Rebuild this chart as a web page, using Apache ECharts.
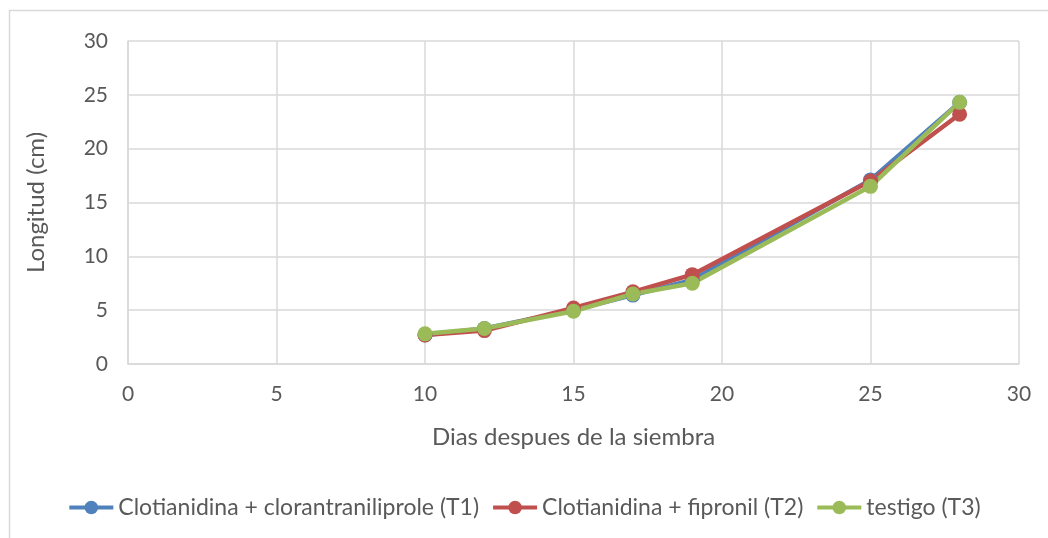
<!DOCTYPE html>
<html>
<head>
<meta charset="utf-8">
<script src="https://cdn.jsdelivr.net/npm/echarts@6/dist/echarts.min.js"></script>
<style>
html,body{margin:0;padding:0;background:#fff;}
#chart{width:1048px;height:538px;}
</style>
</head>
<body>
<div id="chart"></div>
<script>
// dias despues de la siembra
var dias = [10, 12, 15, 17, 19, 25, 28];
// longitud (cm) por tratamiento
var t1 = [2.7, 3.3, 5.0, 6.4, 7.8, 17.1, 24.3];
var t2 = [2.7, 3.1, 5.2, 6.7, 8.3, 17.0, 23.2];
var t3 = [2.8, 3.3, 4.9, 6.5, 7.5, 16.5, 24.3];
var nombres = ['Clotianidina + clorantraniliprole (T1)', 'Clotianidina + fipronil (T2)', 'testigo (T3)'];
var colores = ['#4f81bd', '#c0504d', '#9bbb59'];

var fuente = 'Lato, "Open Sans", sans-serif';
var gris = '#595959';

function pares(arr) {
    return dias.map(function (d, i) { return [d, arr[i]]; });
}

var serie = function (nombre, datos, color) {
    return {
        name: nombre,
        type: 'line',
        data: pares(datos),
        symbol: 'circle',
        symbolSize: 15,
        lineStyle: {width: 4.5, color: color},
        itemStyle: {color: color},
        emphasis: {disabled: true}
    };
};

var chart = echarts.init(document.getElementById('chart'));
chart.setOption({
    animation: false,
    textStyle: {fontFamily: fuente},
    graphic: [{
        type: 'rect',
        shape: {x: 9.5, y: 10.5, width: 1100, height: 600},
        style: {fill: 'none', stroke: '#d9d9d9', lineWidth: 1.5},
        silent: true
    }],
    grid: {left: 128, right: 29, top: 41, bottom: 174},
    xAxis: {
        type: 'value',
        min: 0, max: 30, interval: 5,
        name: 'Dias despues de la siembra',
        nameLocation: 'middle',
        nameGap: 61,
        nameTextStyle: {color: gris, fontSize: 24, fontFamily: fuente},
        axisLine: {lineStyle: {color: '#d9d9d9', width: 1.5}},
        axisTick: {show: false},
        axisLabel: {color: gris, fontSize: 21, margin: 20, fontFamily: fuente},
        splitLine: {show: true, lineStyle: {color: '#d9d9d9', width: 1.5}}
    },
    yAxis: {
        type: 'value',
        min: 0, max: 30, interval: 5,
        name: 'Longitud (cm)',
        nameLocation: 'middle',
        nameGap: 80,
        nameRotate: 90,
        nameTextStyle: {color: gris, fontSize: 24, fontFamily: fuente},
        axisLine: {show: true, lineStyle: {color: '#d9d9d9', width: 1.5}},
        axisTick: {show: false},
        axisLabel: {color: gris, fontSize: 21, margin: 20, fontFamily: fuente},
        splitLine: {show: true, lineStyle: {color: '#d9d9d9', width: 1.5}}
    },
    legend: {
        bottom: 14,
        left: 'center',
        itemWidth: 44,
        itemHeight: 17,
        itemGap: 12,
        lineStyle: {width: 4},
        textStyle: {color: gris, fontSize: 23, fontFamily: fuente},
        data: nombres
    },
    series: [
        serie(nombres[0], t1, colores[0]),
        serie(nombres[1], t2, colores[1]),
        serie(nombres[2], t3, colores[2])
    ]
});
</script>
</body>
</html>
